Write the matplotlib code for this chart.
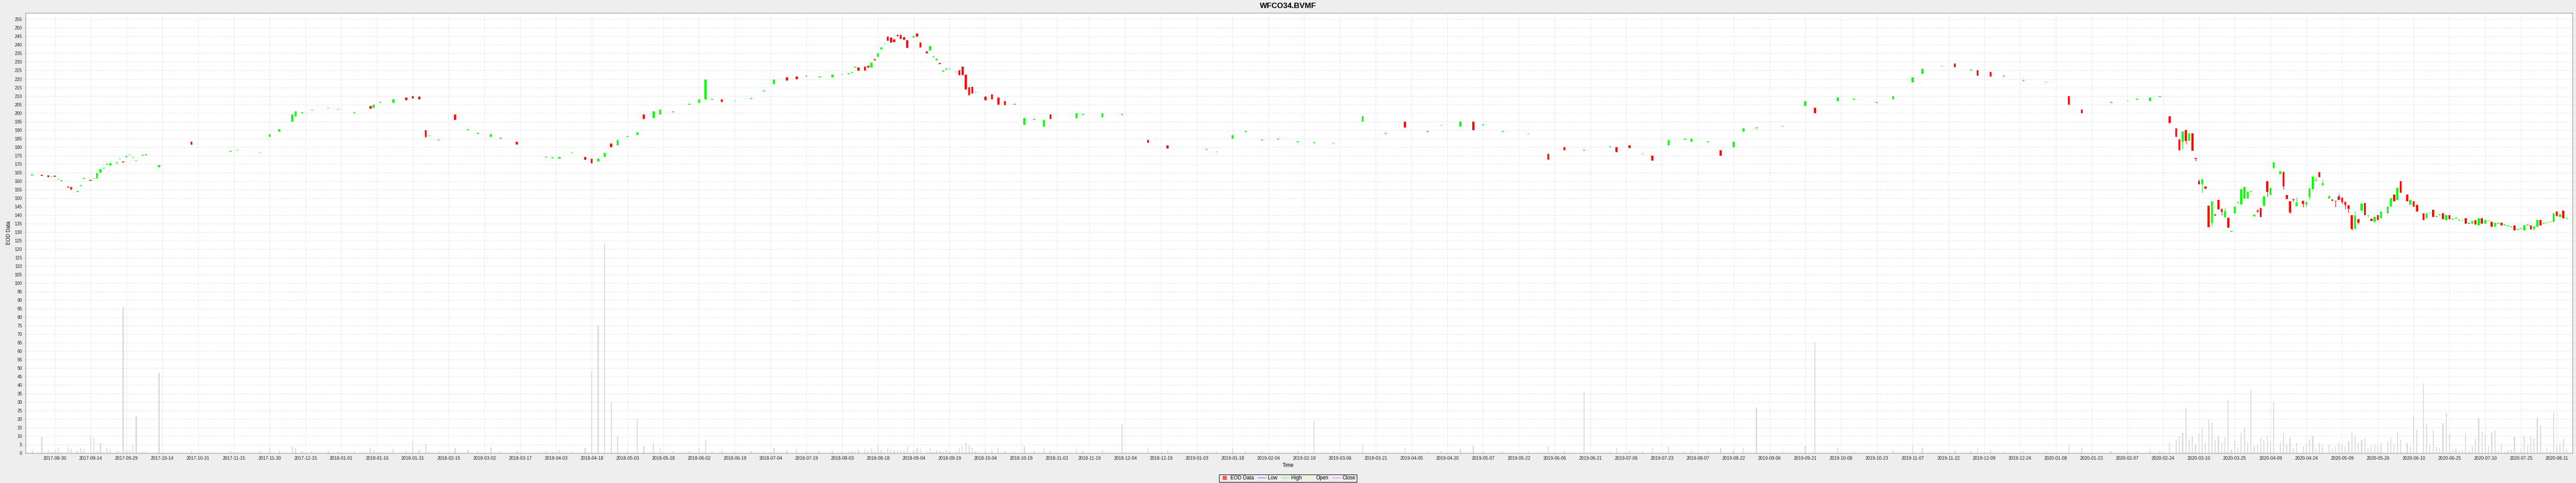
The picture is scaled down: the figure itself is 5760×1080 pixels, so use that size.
import numpy as np
import matplotlib
matplotlib.use('Agg')
import matplotlib.pyplot as plt
from matplotlib.lines import Line2D

plt.rcParams['font.family'] = ['Liberation Sans', 'DejaVu Sans']

# x axis is a Mon-Fri timeline: trading-day index counted from start_day
start_day = '2017-08-21'

bday = [0, 3, 5, 6, 7, 8, 9, 11, 12, 14, 15, 16, 18, 19, 20, 21, 22, 23, 24, 26, 27, 28, 29, 30, 31, 32, 34, 35, 39,
        49, 61, 63, 70, 73, 76, 80, 81, 83, 86, 91, 94, 99, 104, 105, 107, 111, 115, 117, 119,
        121, 122, 125, 130, 134, 137, 141, 144, 149, 158, 160, 162, 166, 170, 172, 174, 176, 178, 180, 183,
        186, 188, 191, 193, 197, 202, 205, 207, 209, 212, 216, 221, 225, 228, 232, 235, 238, 242, 246, 249,
        251, 252, 253, 254, 256, 257, 258, 259, 260, 261, 262, 263, 264, 265, 266, 267, 268, 269, 271, 272,
        273, 275, 276, 277, 278, 279, 280, 281, 282, 284, 285, 286, 287, 288, 289, 290, 293,
        295, 297, 299, 302, 305, 308, 311, 313, 321, 323, 329, 335, 343, 349, 361, 364, 369, 373, 378, 383,
        389, 394, 400, 409, 416, 422, 429, 433, 439, 443, 446, 452, 460, 466, 471, 477, 485, 487, 491, 495,
        498, 503, 508, 510, 515, 519, 523, 526, 530, 538, 545, 548, 555, 560, 567, 572, 578, 581, 587, 591,
        596, 598, 602, 606, 612, 619, 626, 630, 639, 644, 647, 651, 654, 657, 659,
        660, 661, 662, 663, 664, 665, 666, 667, 668, 669, 670, 671, 672, 673, 674, 675, 676, 677, 678, 679,
        680, 681, 682, 683, 684, 685, 686, 687, 688, 689, 691, 692, 693, 694, 695, 696, 698, 699, 700, 701,
        702, 703, 704, 706, 707, 708, 709, 710, 711, 712, 713, 714, 715, 716, 717, 718, 719,
        720, 721, 722, 724, 725, 726, 727, 728, 730, 731, 732, 733, 735, 736, 737, 738, 739, 740, 741, 742,
        743, 744, 745, 746, 747, 748, 749, 750, 751, 752, 753, 754, 755, 756, 757, 758, 759, 760, 761, 762,
        763, 764, 765, 766, 767, 768, 769, 770, 771, 772, 773, 774, 775, 776, 777, 778, 779]

opens = [163.3, 163.5, 163.3, 162.2, 163.0, 160.9, 160.0, 156.8, 156.4, 153.7, 157.0, 161.2, 160.6, 161.4, 161.4,
         164.8, 167.4, 169.7, 169.0, 170.5, 172.7, 171.6, 174.1, 175.1, 173.5, 171.7, 175.0, 175.3, 168.2,
         183.0, 177.4, 178.0, 176.4, 186.0, 189.0, 195.0, 198.0, 200.0, 201.4,
         202.4, 201.9, 199.9, 204.0, 203.0, 205.9, 206.0, 209.0, 210.0, 209.5,
         190.0, 186.4, 183.9, 199.0, 189.9, 187.9, 186.0, 184.9, 183.0, 173.9,
         173.4, 173.0, 176.4, 174.0, 173.0, 171.5, 174.0, 182.0, 181.0, 185.9,
         187.0, 199.0, 197.0, 199.0, 200.4, 204.9, 206.0, 208.0, 207.9, 208.0,
         206.9, 208.4, 212.9, 217.0, 221.0, 221.5, 221.4, 220.9, 221.0, 222.4,
         222.8, 223.6, 226.7, 226.7, 227.1, 227.7, 226.8, 231.8, 232.9, 237.6,
         240.3, 244.8, 244.4, 243.2, 246.0, 245.8, 244.6, 242.7, 244.3, 246.6,
         241.4, 236.2, 236.8, 232.8, 230.8, 229.1, 224.3, 225.4, 225.8, 224.0,
         225.0, 227.2, 222.5, 215.1, 215.4, 211.9, 209.6,
         211.0, 209.0, 207.0, 204.9, 193.0, 195.9, 192.0, 199.0, 197.0, 198.9,
         197.5, 198.9, 184.0, 181.0, 178.4, 176.9, 185.0, 188.9, 183.9, 184.4,
         182.9, 182.4, 181.9, 195.0, 187.9, 195.0, 188.9, 192.4, 192.0, 195.0,
         192.9, 188.9, 187.4, 176.0, 180.0, 177.9, 179.9, 180.0, 181.0, 175.9,
         175.0, 181.0, 184.4, 183.0, 182.9, 178.0, 180.0, 189.0, 190.9, 191.9,
         204.0, 203.0, 207.0, 207.9, 205.9, 208.0, 218.0, 223.0, 227.4, 229.0,
         224.9, 225.0, 224.0, 221.4, 218.9, 217.9, 210.0, 202.0, 205.9, 206.9,
         207.9, 207.0, 209.4, 198.0, 191.0,
         184.4, 183.1, 190.0, 183.7, 188.0, 173.4, 160.0, 158.0, 156.9, 145.4,
         135.3, 140.6, 148.9, 143.6, 138.6, 138.4, 130.2, 141.1, 147.0, 146.2,
         149.8, 149.8, 153.7, 139.2, 142.5, 144.2, 145.4, 160.0, 151.8, 167.6,
         164.1, 165.2, 151.8, 148.0, 149.3, 145.2, 148.3, 146.0, 150.6, 155.3,
         160.3, 165.1, 157.9, 149.6, 149.1, 148.4, 150.9, 150.1, 147.8, 145.7,
         140.0, 131.8, 137.5, 142.7, 147.0, 139.6, 137.9,
         136.0, 140.0, 138.0, 141.0, 145.0, 152.0, 149.0, 160.0, 152.0, 146.0,
         148.0, 146.0, 141.0, 138.0, 140.9, 143.0, 138.9, 139.9, 141.0, 137.0,
         140.0, 137.4, 137.9, 136.9, 136.4, 138.0, 134.9, 135.0, 137.0, 134.0,
         138.0, 135.0, 136.4, 136.0, 133.0, 134.9, 135.5, 133.9, 133.4, 132.9,
         134.0, 131.4, 131.9, 131.0, 133.9, 134.0, 131.5, 133.0, 137.0, 134.9,
         135.4, 135.9, 136.0, 142.0, 139.0, 142.5, 137.9]

highs = [163.6, 163.5, 163.3, 162.4, 163.0, 161.3, 160.2, 156.8, 156.4, 153.9, 157.2, 161.4, 160.6, 161.6, 164.6,
         167.0, 167.6, 169.9, 170.4, 170.7, 172.9, 171.6, 174.3, 175.3, 173.7, 171.9, 175.2, 175.5, 169.3,
         183.3, 177.6, 178.2, 176.6, 187.5, 190.5, 199.0, 201.0, 200.2, 201.6,
         202.6, 202.1, 200.1, 204.0, 205.0, 206.1, 208.0, 209.0, 210.0, 209.5,
         190.0, 186.6, 184.1, 199.0, 190.1, 188.1, 187.5, 185.1, 183.0, 174.1,
         173.6, 174.0, 176.6, 174.0, 173.0, 173.0, 176.5, 182.0, 184.0, 186.1,
         188.5, 199.0, 201.0, 202.0, 200.6, 205.1, 208.0, 219.5, 208.1, 208.0,
         207.1, 208.6, 213.1, 219.5, 221.0, 221.5, 221.6, 221.1, 222.5, 222.6,
         223.0, 223.8, 226.9, 226.7, 227.1, 227.7, 229.7, 231.8, 235.0, 238.6,
         240.5, 244.8, 244.4, 243.2, 246.0, 245.8, 244.6, 242.7, 245.5, 246.6,
         241.4, 236.2, 239.2, 233.0, 231.9, 229.1, 224.5, 226.3, 226.0, 224.2,
         225.0, 227.2, 222.5, 215.1, 215.4, 212.1, 209.6,
         211.0, 209.0, 207.0, 205.1, 197.0, 196.1, 196.0, 199.0, 200.0, 199.1,
         200.0, 199.1, 184.0, 181.0, 178.6, 177.1, 187.0, 189.1, 184.1, 184.6,
         183.1, 182.6, 182.1, 198.0, 188.1, 195.0, 189.1, 192.6, 195.0, 195.0,
         193.1, 189.1, 187.6, 176.0, 180.0, 178.1, 180.1, 180.0, 181.0, 176.1,
         175.0, 184.0, 184.6, 185.0, 183.1, 178.0, 183.0, 191.0, 191.1, 192.1,
         207.0, 203.0, 209.0, 208.1, 206.1, 210.0, 221.0, 226.0, 227.6, 229.0,
         225.1, 225.0, 224.0, 221.6, 219.1, 218.1, 210.0, 202.0, 206.1, 207.1,
         208.1, 209.0, 209.6, 198.0, 191.0,
         185.0, 189.0, 190.5, 188.0, 188.0, 173.4, 161.1, 161.3, 156.9, 145.4,
         148.1, 140.6, 148.9, 143.6, 144.2, 138.4, 130.4, 144.9, 147.2, 155.3,
         156.5, 153.7, 153.9, 140.2, 143.5, 144.2, 151.0, 160.0, 156.1, 170.9,
         165.8, 166.1, 151.8, 148.0, 149.3, 150.5, 148.3, 148.2, 155.7, 162.6,
         162.6, 165.1, 160.5, 151.9, 149.1, 148.4, 152.6, 150.1, 147.8, 145.7,
         140.0, 142.5, 137.5, 146.9, 147.0, 139.8, 137.9,
         139.0, 140.0, 142.0, 145.0, 150.0, 152.0, 156.0, 160.0, 152.0, 149.0,
         148.0, 146.0, 141.0, 141.0, 141.1, 143.0, 139.1, 140.1, 141.0, 140.0,
         140.0, 137.6, 138.1, 137.1, 136.6, 138.0, 135.1, 136.5, 137.0, 138.0,
         138.0, 137.0, 136.6, 136.0, 135.5, 135.1, 135.5, 134.1, 133.6, 133.1,
         134.0, 131.6, 132.1, 134.0, 134.1, 134.0, 133.5, 137.0, 137.0, 135.1,
         135.6, 136.1, 141.0, 142.0, 140.5, 142.5, 138.1]

lows = [163.3, 163.1, 162.3, 162.2, 162.5, 160.9, 160.0, 155.9, 154.9, 153.7, 157.0, 161.2, 160.2, 161.4, 161.4,
        164.8, 167.4, 169.7, 169.0, 170.5, 172.7, 170.9, 174.1, 175.1, 173.5, 171.7, 175.0, 175.3, 168.2,
        181.3, 177.4, 178.0, 176.4, 186.0, 189.0, 195.0, 198.0, 200.0, 201.4,
        202.4, 201.9, 199.9, 202.5, 203.0, 205.9, 206.0, 207.5, 208.5, 208.0,
        185.5, 186.4, 183.9, 196.0, 189.9, 187.9, 186.0, 184.9, 181.5, 173.9,
        173.4, 173.0, 176.4, 172.5, 170.5, 171.5, 174.0, 180.0, 181.0, 185.9,
        187.0, 196.5, 197.0, 199.0, 200.4, 204.9, 206.0, 208.0, 207.9, 206.5,
        206.9, 208.4, 212.9, 217.0, 219.0, 220.0, 221.4, 220.9, 221.0, 222.4,
        222.8, 223.6, 226.7, 224.9, 224.9, 226.8, 226.8, 231.0, 232.9, 237.6,
        240.3, 242.4, 241.5, 241.8, 245.0, 243.6, 243.0, 238.2, 244.3, 244.9,
        238.6, 235.2, 236.8, 232.8, 230.8, 228.8, 224.3, 225.4, 225.8, 224.0,
        222.3, 222.3, 213.9, 210.4, 211.5, 211.9, 207.5,
        208.0, 205.0, 204.5, 204.9, 193.0, 195.9, 192.0, 196.5, 197.0, 198.9,
        197.5, 198.9, 182.5, 179.0, 178.4, 176.9, 185.0, 188.9, 183.9, 184.4,
        182.9, 182.4, 181.9, 195.0, 187.9, 191.5, 188.9, 192.4, 192.0, 190.0,
        192.9, 188.9, 187.4, 172.5, 178.0, 177.9, 179.9, 177.0, 179.5, 175.9,
        172.0, 181.0, 184.4, 183.0, 182.9, 175.0, 180.0, 189.0, 190.9, 191.9,
        204.0, 200.0, 207.0, 207.9, 205.9, 208.0, 218.0, 223.0, 227.4, 227.0,
        224.9, 222.0, 221.5, 221.4, 218.9, 217.9, 205.0, 200.0, 205.9, 206.9,
        207.9, 207.0, 209.4, 194.0, 186.0,
        178.1, 178.9, 182.0, 183.7, 177.9, 171.8, 158.0, 153.0, 155.4, 132.8,
        133.3, 139.6, 143.3, 140.0, 138.6, 132.6, 130.2, 141.1, 147.0, 146.2,
        149.8, 149.8, 153.7, 139.2, 141.8, 139.0, 145.4, 150.6, 151.8, 167.6,
        164.1, 155.2, 149.4, 140.7, 147.9, 145.2, 144.6, 144.8, 149.2, 155.3,
        160.3, 162.3, 156.8, 149.6, 148.3, 144.8, 148.9, 146.6, 143.4, 141.4,
        131.1, 131.8, 134.7, 141.6, 140.0, 138.7, 136.4,
        136.0, 137.0, 138.0, 141.0, 145.0, 148.0, 149.0, 153.0, 148.0, 146.0,
        145.0, 142.0, 137.0, 138.0, 140.9, 139.0, 138.9, 139.9, 137.5, 137.0,
        137.5, 137.4, 137.9, 136.9, 136.4, 135.0, 134.9, 135.0, 134.5, 134.0,
        135.0, 135.0, 136.4, 133.0, 133.0, 134.9, 134.0, 133.9, 133.4, 132.9,
        131.0, 131.4, 131.9, 131.0, 133.9, 131.5, 131.5, 133.0, 134.0, 134.9,
        135.4, 135.9, 136.0, 139.5, 139.0, 138.0, 137.9]

closes = [163.6, 163.1, 162.3, 162.4, 162.5, 161.3, 160.2, 156.3, 154.9, 153.9, 157.2, 161.4, 160.2, 161.6, 164.6,
          167.0, 167.6, 169.9, 170.4, 170.7, 172.9, 170.9, 174.3, 175.3, 173.7, 171.9, 175.2, 175.5, 169.3,
          181.5, 177.6, 178.2, 176.6, 187.5, 190.5, 199.0, 201.0, 200.2, 201.6,
          202.6, 202.1, 200.1, 202.5, 205.0, 206.1, 208.0, 207.5, 208.5, 208.0,
          186.0, 186.6, 184.1, 196.0, 190.1, 188.1, 187.5, 185.1, 181.5, 174.1,
          173.6, 174.0, 176.6, 172.5, 170.5, 173.0, 176.5, 180.0, 184.0, 186.1,
          188.5, 196.5, 201.0, 202.0, 200.6, 205.1, 208.0, 219.5, 208.1, 206.5,
          207.1, 208.6, 213.1, 219.5, 219.0, 220.0, 221.6, 221.1, 222.5, 222.6,
          223.0, 223.8, 226.9, 224.9, 224.9, 226.8, 229.7, 231.0, 235.0, 238.6,
          240.5, 242.4, 241.5, 241.8, 245.0, 243.6, 243.0, 238.2, 245.5, 244.9,
          238.6, 235.2, 239.2, 233.0, 231.9, 228.8, 224.5, 226.3, 226.0, 224.2,
          222.3, 222.3, 213.9, 210.4, 211.5, 212.1, 207.5,
          208.0, 205.0, 204.5, 205.1, 197.0, 196.1, 196.0, 196.5, 200.0, 199.1,
          200.0, 199.1, 182.5, 179.0, 178.6, 177.1, 187.0, 189.1, 184.1, 184.6,
          183.1, 182.6, 182.1, 198.0, 188.1, 191.5, 189.1, 192.6, 195.0, 190.0,
          193.1, 189.1, 187.6, 172.5, 178.0, 178.1, 180.1, 177.0, 179.5, 176.1,
          172.0, 184.0, 184.6, 185.0, 183.1, 175.0, 183.0, 191.0, 191.1, 192.1,
          207.0, 200.0, 209.0, 208.1, 206.1, 210.0, 221.0, 226.0, 227.6, 227.0,
          225.1, 222.0, 221.5, 221.6, 219.1, 218.1, 205.0, 200.0, 206.1, 207.1,
          208.1, 209.0, 209.6, 194.0, 186.0,
          178.1, 189.0, 183.5, 188.0, 177.9, 173.2, 158.0, 161.0, 155.4, 132.8,
          148.1, 139.6, 143.3, 141.8, 142.2, 132.6, 130.4, 144.9, 147.2, 155.3,
          156.5, 153.7, 153.9, 140.2, 141.8, 139.0, 151.0, 153.6, 156.1, 170.9,
          165.8, 156.8, 149.4, 141.6, 149.0, 147.3, 146.5, 147.5, 155.7, 162.6,
          160.5, 162.3, 158.6, 150.9, 148.3, 148.0, 148.9, 147.5, 145.6, 143.6,
          131.8, 139.7, 135.4, 146.9, 140.0, 139.8, 136.4,
          139.0, 137.0, 142.0, 145.0, 150.0, 148.0, 156.0, 153.0, 148.0, 149.0,
          145.0, 142.0, 137.0, 141.0, 141.1, 139.0, 139.1, 140.1, 137.5, 140.0,
          137.5, 137.6, 138.1, 137.1, 136.6, 135.0, 135.1, 136.5, 134.5, 138.0,
          135.0, 137.0, 136.6, 133.0, 135.5, 135.1, 134.0, 134.1, 133.6, 133.1,
          131.0, 131.6, 132.1, 134.0, 134.1, 131.5, 133.5, 137.0, 134.0, 135.1,
          135.6, 136.1, 141.0, 139.5, 140.5, 138.0, 138.1]

volumes = [1.8, 9.5, 1.7, 0.5, 2.1, 3.2, 0.5, 3.6, 2.5, 1.2, 3.2, 2.8, 10.4, 8.8, 1.3,
           5.9, 0.5, 3.2, 2.5, 1.3, 0.9, 85.8, 2.1, 2.1, 4.8, 21.9, 0.9, 0.5, 47.2,
           2.0, 1.0, 0.5, 1.0, 3.0, 2.0, 4.0, 3.0, 1.0, 1.0,
           2.0, 0.8, 1.5, 3.0, 2.0, 0.6, 2.5, 1.5, 7.0, 2.0,
           5.0, 1.0, 1.5, 3.0, 2.0, 1.0, 3.5, 1.0, 2.0, 1.5,
           0.8, 2.0, 1.0, 3.0, 48.0, 75.0, 123.0, 30.0, 10.0, 2.0,
           20.0, 4.0, 6.0, 3.0, 1.0, 1.5, 3.0, 8.0, 1.0, 2.0,
           1.0, 1.0, 0.8, 3.0, 2.0, 2.5, 1.0, 1.5, 2.0, 1.0,
           1.0, 1.5, 0.8, 2.0, 2.5, 1.5, 3.0, 1.0, 4.0, 2.0,
           1.0, 3.0, 2.5, 1.5, 1.0, 2.0, 1.5, 4.0, 2.0, 3.0,
           2.5, 1.5, 3.0, 0.8, 2.0, 1.0, 0.8, 2.0, 1.0, 1.0,
           3.0, 4.0, 6.0, 5.0, 3.0, 1.0, 2.0,
           2.0, 3.0, 1.5, 1.0, 4.0, 1.0, 3.0, 2.0, 2.5, 1.0,
           2.0, 17.0, 3.0, 2.0, 1.0, 1.5, 3.0, 1.0, 1.5, 0.8,
           2.0, 19.0, 1.0, 5.0, 1.0, 3.0, 1.0, 1.5, 2.5, 4.0,
           1.0, 1.5, 1.0, 4.0, 2.0, 36.0, 1.0, 3.0, 2.0, 1.0,
           3.0, 4.0, 1.0, 2.0, 1.0, 3.0, 2.0, 3.0, 27.0, 1.0,
           4.0, 65.0, 3.0, 1.0, 1.0, 2.0, 4.0, 3.0, 1.0, 2.0,
           1.0, 3.0, 2.0, 1.0, 1.5, 1.0, 5.0, 3.0, 1.0, 1.5,
           1.0, 2.0, 1.0, 6.0, 8.0,
           10.0, 12.0, 27.0, 8.0, 10.0, 5.0, 12.0, 15.0, 6.0, 20.0,
           18.0, 8.0, 10.0, 6.0, 9.0, 31.0, 2.0, 7.0, 3.0, 12.0,
           15.0, 6.0, 37.0, 4.0, 5.0, 9.0, 8.0, 10.0, 7.0, 30.0,
           6.0, 12.0, 5.0, 9.0, 3.0, 6.0, 4.0, 5.0, 8.0, 10.0,
           3.0, 6.0, 4.0, 5.0, 3.0, 4.0, 6.0, 5.0, 4.0, 7.0,
           12.0, 10.0, 6.0, 8.0, 9.0, 3.0, 4.0,
           5.0, 4.0, 6.0, 7.0, 9.0, 5.0, 12.0, 8.0, 6.0, 4.0,
           22.0, 13.8, 41.0, 17.1, 4.8, 13.4, 3.8, 2.8, 17.6, 23.7,
           11.3, 1.9, 2.6, 1.1, 2.0, 11.8, 1.4, 4.4, 8.5, 20.5,
           12.8, 11.2, 3.9, 12.2, 13.5, 1.5, 5.2, 0.9, 2.3, 1.9,
           9.6, 0.9, 2.6, 10.3, 4.8, 9.8, 8.8, 20.9, 16.4, 0.9,
           2.6, 1.2, 24.0, 4.3, 5.6, 8.8, 2.6]

tick_dates = ['2017-08-30', '2017-09-14', '2017-09-29', '2017-10-14', '2017-10-31', '2017-11-15', '2017-11-30',
              '2017-12-15', '2018-01-01', '2018-01-16', '2018-01-31', '2018-02-15', '2018-03-02', '2018-03-17',
              '2018-04-03', '2018-04-18', '2018-05-03', '2018-05-18', '2018-06-02', '2018-06-19', '2018-07-04',
              '2018-07-19', '2018-08-03', '2018-08-18', '2018-09-04', '2018-09-19', '2018-10-04', '2018-10-19',
              '2018-11-03', '2018-11-19', '2018-12-04', '2018-12-19', '2019-01-03', '2019-01-18', '2019-02-04',
              '2019-02-19', '2019-03-06', '2019-03-21', '2019-04-05', '2019-04-20', '2019-05-07', '2019-05-22',
              '2019-06-06', '2019-06-21', '2019-07-06', '2019-07-23', '2019-08-07', '2019-08-22', '2019-09-06',
              '2019-09-21', '2019-10-08', '2019-10-23', '2019-11-07', '2019-11-22', '2019-12-09', '2019-12-24',
              '2020-01-08', '2020-01-23', '2020-02-07', '2020-02-24', '2020-03-10', '2020-03-25', '2020-04-09',
              '2020-04-24', '2020-05-09', '2020-05-26', '2020-06-10', '2020-06-25', '2020-07-10', '2020-07-25',
              '2020-08-11']

x = np.array(bday)
o = np.array(opens)
h = np.array(highs)
l = np.array(lows)
c = np.array(closes)
colors = np.where(c >= o, '#00ff00', '#ff0000')

fig = plt.figure(figsize=(57.6, 10.8), dpi=100, facecolor='#eeeeee')
ax = fig.add_axes([0.00984, 0.06176, 0.98877, 0.91111])
ax.set_facecolor('white')

# volume bars share the price axis
ax.bar(x, volumes, width=0.3, color='#d9d9d9', linewidth=0, zorder=2)
ax.vlines(x, l, h, colors=colors, linewidth=0.9, zorder=3)
ax.bar(x, np.maximum(np.abs(c - o), 0.45), bottom=np.minimum(o, c), width=0.62,
       color=colors, linewidth=0, zorder=4)

tick_x = np.busday_count(start_day, tick_dates)
ax.set_xticks(tick_x)
ax.set_xticklabels(tick_dates)
ax.set_yticks(np.arange(0, 260, 5))
ax.set_xlim(-2.07, 780.8)
ax.set_ylim(0, 258.7)

ax.set_axisbelow(True)
ax.grid(True, color='#d9d9d9', linestyle=(0, (2.5, 2.5)), linewidth=0.75)
for s in ax.spines.values():
    s.set_color('#a0a0a0')
    s.set_linewidth(1.0)
ax.tick_params(axis='both', direction='out', length=1.5, width=0.7, color='#a0a0a0',
               labelsize=7.3, labelcolor='#222222')
ax.tick_params(axis='x', pad=3.0)
ax.tick_params(axis='y', pad=3.6)

fig.text(0.5, 1 - 13 / 1080, 'WFCO34.BVMF', ha='center', va='center', fontsize=12.5, fontweight='bold')
fig.text(20 / 5760, 1 - 521 / 1080, 'EOD Data', rotation=90, ha='center', va='center', fontsize=8.3)
fig.text(0.5, 1 - 1041 / 1080, 'Time', ha='center', va='center', fontsize=8.3)

handles = [Line2D([], [], marker='s', color='#ff5555', linestyle='none', markersize=5.5),
           Line2D([], [], color='#5555ff', linewidth=0.9),
           Line2D([], [], color='#55ff55', linewidth=0.9),
           Line2D([], [], color='#ffff55', linewidth=0.9),
           Line2D([], [], color='#ff55ff', linewidth=0.9)]
leg = fig.legend(handles, ['EOD Data', 'Low', 'High', 'Open', 'Close'], loc='lower center',
                 bbox_to_anchor=(0.5, 0.0015), ncol=5, fontsize=8.3, frameon=True, fancybox=False,
                 edgecolor='black', facecolor='#eeeeee', framealpha=1, handlelength=1.5,
                 handletextpad=0.4, columnspacing=0.8, borderpad=0.25, borderaxespad=0)
leg.get_frame().set_linewidth(0.8)

fig.savefig('out.png', dpi=100, facecolor=fig.get_facecolor())
